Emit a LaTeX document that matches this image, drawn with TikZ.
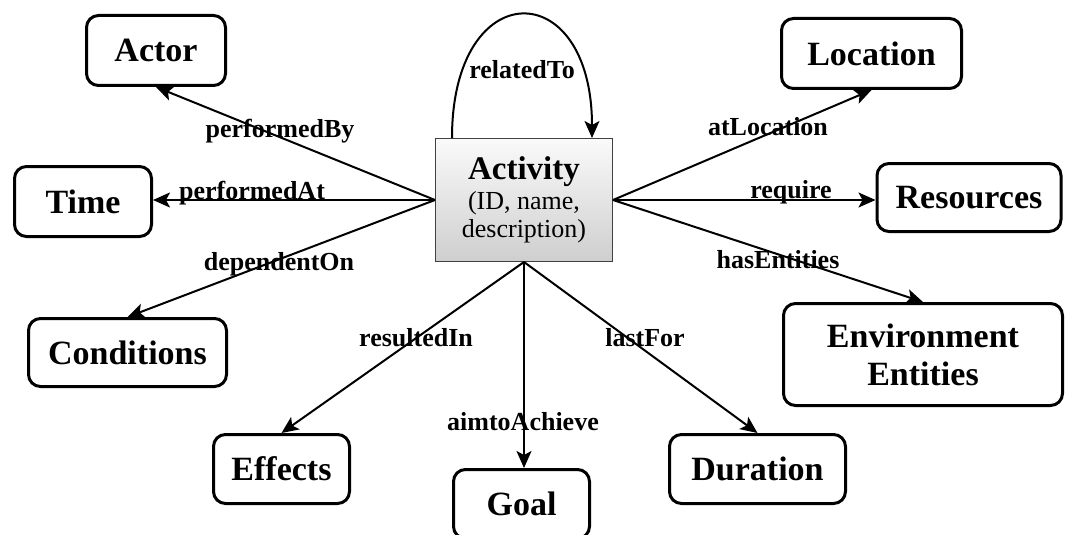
\documentclass[tikz,border=0pt]{standalone}
\usepackage{fontspec}
\setmainfont{Liberation Serif}
\usetikzlibrary{arrows.meta,calc}
\begin{document}
\begin{tikzpicture}[x=1pt,y=-1pt,
  entity/.style={draw=black, line width=3pt, rounded corners=12pt, fill=white,
    font=\fontsize{34}{38}\selectfont\bfseries, align=center, inner sep=0pt},
  act/.style={draw=black!75, line width=1pt, top color=gray!4, bottom color=gray!38,
    minimum width=177pt, minimum height=123pt, inner sep=0pt, align=center,
    font=\fontsize{26}{28}\selectfont},
  rel/.style={line width=2pt, -{Stealth[length=17pt,width=15pt,inset=4pt]}},
  lbl/.style={font=\fontsize{26}{26}\selectfont\bfseries, anchor=base, inner sep=0pt}]
\useasboundingbox[fill=white] (0,0) rectangle (1066,535);

% nodes
\node[act] (activity) at (524,200)
  {{\fontsize{33}{33}\selectfont\bfseries Activity}\\[2pt](ID, name,\\description)};
\node[entity, minimum width=139pt, minimum height=70pt] (actor) at (156,50.5) {Actor};
\node[entity, minimum width=137pt, minimum height=70pt] (time) at (83,201.5) {Time};
\node[entity, minimum width=198pt, minimum height=68pt] (conditions) at (127.5,352.5) {Conditions};
\node[entity, minimum width=136pt, minimum height=69pt] (effects) at (281.5,469) {Effects};
\node[entity, minimum width=136pt, minimum height=69pt] (goal) at (521.5,504) {Goal};
\node[entity, minimum width=176pt, minimum height=69pt] (duration) at (757.5,469) {Duration};
\node[entity, minimum width=279pt, minimum height=102pt] (env) at (923,354.5) {Environment\\Entities};
\node[entity, minimum width=184pt, minimum height=68pt] (resources) at (969,197.5) {Resources};
\node[entity, minimum width=180pt, minimum height=70pt] (location) at (871.5,53.5) {Location};

% connectors
\draw[rel] (activity.west) -- (actor.south);
\draw[rel] (activity.west) -- (activity.west -| time.east);
\draw[rel] (activity.west) -- (conditions.north);
\draw[rel] (activity.east) -- (location.south);
\draw[rel] (activity.east) -- (activity.east -| resources.west);
\draw[rel] (activity.east) -- (env.north);
\draw[rel] (activity.south) -- (effects.north);
\draw[rel] (activity.south) -- (activity.south |- goal.north);
\draw[rel] (activity.south) -- (duration.north);
\coordinate (loopA) at ($(activity.north west)+(17,0)$);
\coordinate (loopB) at ($(activity.north east)+(-21,0)$);
\draw[rel] (loopA) .. controls ($(loopA)+(0,-164)$) and ($(loopB)+(0,-164)$) .. (loopB);

% labels
\node[lbl] (lrel) at (522,78) {relatedTo};
\node[lbl] (lby) at (280,137) {performedBy};
\node[lbl] (lat) at (252,199) {performedAt};
\node[lbl] (ldep) at (279,270) {dependentOn};
\node[lbl] (lloc) at (768,135) {atLocation};
\node[lbl] (lreq) at (791,198) {require};
\node[lbl] (lhas) at (778,268) {hasEntities};
\node[lbl] (lres) at (416,346) {resultedIn};
\node[lbl] (laim) at (523,430) {aimtoAchieve};
\node[lbl] (llast) at (645,346) {lastFor};
\end{tikzpicture}
\end{document}
